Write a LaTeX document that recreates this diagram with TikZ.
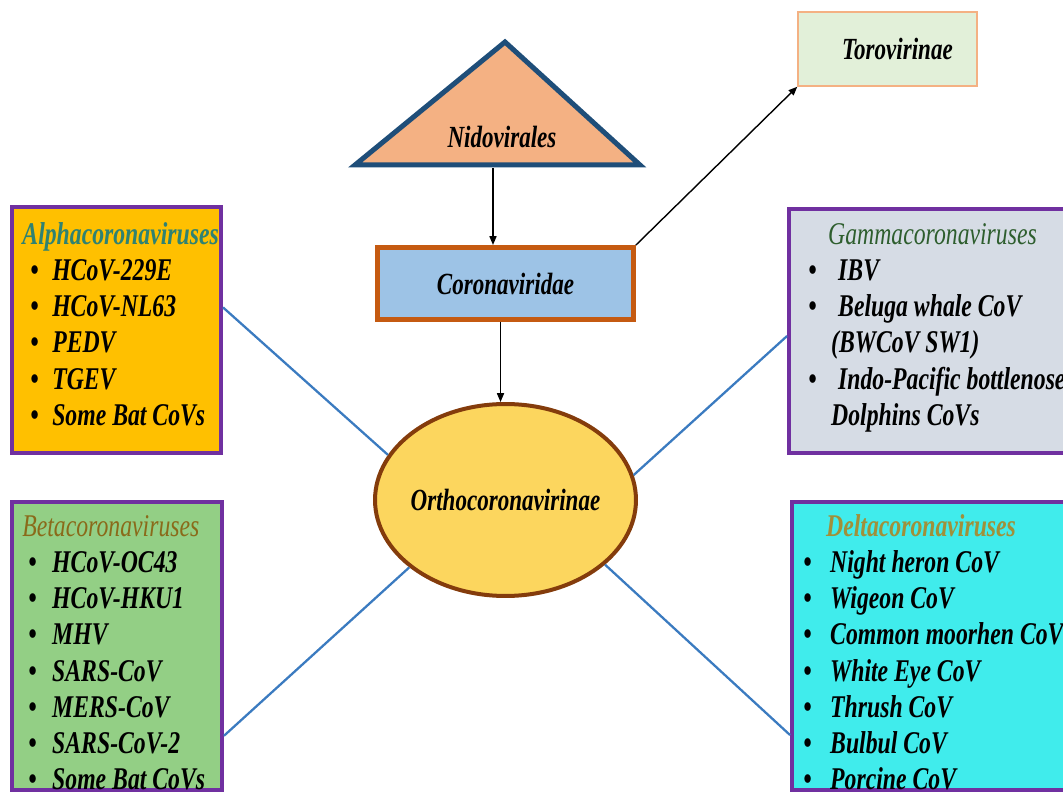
\documentclass[tikz,border=0pt]{standalone}
\usepackage{fontspec}
\setmainfont{Liberation Serif}[FakeStretch=0.75]
\usetikzlibrary{arrows.meta,shapes.geometric}

\definecolor{nidofill}{HTML}{F4B183}
\definecolor{nidoedge}{HTML}{1F4E79}
\definecolor{coronafill}{HTML}{9DC3E6}
\definecolor{coronaedge}{HTML}{C55A11}
\definecolor{orthofill}{HTML}{FCD65E}
\definecolor{orthoedge}{HTML}{843C0C}
\definecolor{torofill}{HTML}{E2F0D9}
\definecolor{toroedge}{HTML}{F4B183}
\definecolor{alphafill}{HTML}{FFC000}
\definecolor{betafill}{HTML}{93CF85}
\definecolor{gammafill}{HTML}{D6DCE5}
\definecolor{deltafill}{HTML}{40ECEC}
\definecolor{grpedge}{HTML}{7030A0}
\definecolor{linkblue}{HTML}{3B7BC0}
\definecolor{alphatitle}{HTML}{2F8272}
\definecolor{betatitle}{HTML}{8A6A1A}
\definecolor{gammatitle}{HTML}{2E5E2E}
\definecolor{deltatitle}{HTML}{A0903A}

\newcommand{\bul}[1]{\makebox[#1][l]{\textbullet}}
\newcommand{\ttl}[2]{{\color{#1}\fontsize{18}{20.6}\selectfont #2}}

\tikzset{
  lbl/.style={font=\fontsize{17.5}{20}\selectfont\bfseries\itshape},
  grp/.style={draw=grpedge, line width=0.08cm, inner sep=0pt},
  lst/.style={anchor=north west, align=left, inner sep=0pt,
    font=\fontsize{18}{20.6}\selectfont\bfseries\itshape},
  arr/.style={-{Triangle[length=5pt,width=4pt]}, line width=0.8pt},
  link/.style={draw=linkblue, line width=1.3pt}
}

\begin{document}
\begin{tikzpicture}[x=0.02cm,y=-0.02cm]
  \useasboundingbox (0,0) rectangle (1063,794);
  \clip (0,0) rectangle (1063,794);

  % Ordre et famille
  \draw[fill=nidofill, draw=nidoedge, line width=0.1cm] (505,42) -- (640,165) -- (355,165) -- cycle;
  \node[lbl] (nido) at (502,137) {Nidovirales};
  \coordinate (nidobase) at (493,168);

  \node[lbl, fill=coronafill, draw=coronaedge, line width=0.1cm,
    minimum width=5.12cm, minimum height=1.44cm] (corona) at (505.5,283.5) {Coronaviridae};
  \node[lbl, fill=torofill, draw=toroedge, line width=0.03cm,
    minimum width=3.58cm, minimum height=1.48cm] (toro) at (887.5,49) {\hspace*{0.4cm}Torovirinae};
  \node[ellipse, fill=orthofill, draw=orthoedge, line width=0.08cm, inner sep=0pt,
    minimum width=5.22cm, minimum height=3.84cm] (ortho) at (505.5,500) {};
  \node[lbl] (ortholbl) at (ortho) {Orthocoronavirinae};

  \draw[arr] (nidobase) -- (nidobase |- corona.north);
  \draw[arr] ([xshift=-0.1cm]corona.south) -- ([xshift=-0.1cm]corona.south |- ortho.north);
  \draw[arr] (corona.north east) -- (toro.south west);

  % Genres
  \node[grp, fill=alphafill, minimum width=4.18cm, minimum height=4.92cm] (alpha) at (116.5,330) {};
  \node[grp, fill=betafill, minimum width=4.2cm, minimum height=5.76cm] (beta) at (117,646) {};
  \node[grp, fill=gammafill, minimum width=5.68cm, minimum height=4.88cm] (gamma) at (931,331) {};
  \node[grp, fill=deltafill, minimum width=5.62cm, minimum height=5.76cm] (delta) at (932.5,646) {};

  \draw[link] (alpha.12) -- (ortho.159);
  \draw[link] (beta.-40) -- (ortho.215);
  \draw[link] (gamma.182) -- (ortho.11);
  \draw[link] (delta.212) -- (ortho.-33);

  % Listes
  \node[lst] (alphalist) at (30,222) {\hspace*{-4.5pt}\ttl{alphatitle}{Alphacoronaviruses}\\
    \bul{12.5pt}HCoV-229E\\
    \bul{12.5pt}HCoV-NL63\\
    \bul{12.5pt}PEDV\\
    \bul{12.5pt}TGEV\\
    \bul{12.5pt}Some Bat CoVs};
  \node[lst] (betalist) at (28,515) {\hspace*{-3.4pt}\ttl{betatitle}{\mdseries Betacoronaviruses}\\
    \bul{13.6pt}HCoV-OC43\\
    \bul{13.6pt}HCoV-HKU1\\
    \bul{13.6pt}MHV\\
    \bul{13.6pt}SARS-CoV\\
    \bul{13.6pt}MERS-CoV\\
    \bul{13.6pt}SARS-CoV-2\\
    \bul{13.6pt}Some Bat CoVs};
  \node[lst] (gammalist) at (808,223) {\hspace*{11.3pt}\ttl{gammatitle}{\mdseries Gammacoronaviruses}\\
    \bul{17pt}IBV\\
    \bul{17pt}Beluga whale CoV\\
    \hspace*{13pt}(BWCoV SW1)\\
    \bul{17pt}Indo-Pacific bottlenose\\
    \hspace*{13pt}Dolphins CoVs};
  \node[lst] (deltalist) at (803,514) {\hspace*{13pt}\ttl{deltatitle}{Deltacoronaviruses}\\
    \bul{15.3pt}Night heron CoV\\
    \bul{15.3pt}Wigeon CoV\\
    \bul{15.3pt}Common moorhen CoV\\
    \bul{15.3pt}White Eye CoV\\
    \bul{15.3pt}Thrush CoV\\
    \bul{15.3pt}Bulbul CoV\\
    \bul{15.3pt}Porcine CoV};
\end{tikzpicture}
\end{document}
